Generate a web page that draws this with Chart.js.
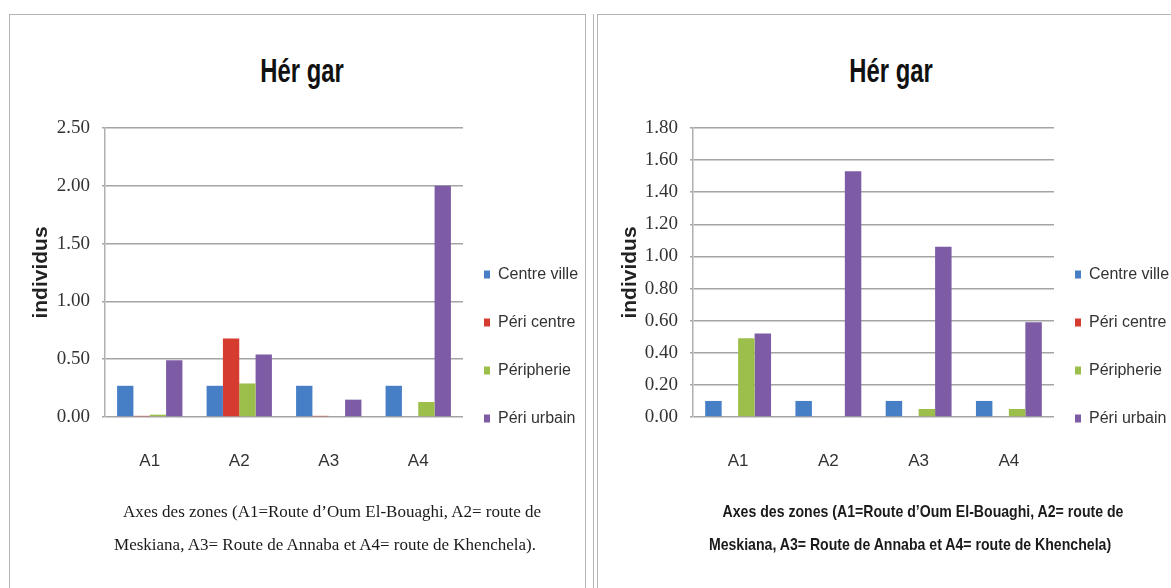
<!DOCTYPE html>
<html>
<head>
<meta charset="utf-8">
<script src="https://cdn.jsdelivr.net/npm/chart.js@4.4.0/dist/chart.umd.min.js"></script>
<style>
body { margin:0; width:1171px; height:588px; overflow:hidden; background:#fff; position:relative; }
.box { position:absolute; border:1px solid #b4b4b4; border-bottom:none; }
.titre { position:absolute; width:300px; line-height:36px; text-align:center; font-family:'Liberation Sans',Arial,sans-serif; font-weight:bold; font-size:34px; color:#111; transform:scaleX(0.7); }
.cap { position:absolute; width:500px; line-height:20px; text-align:center; white-space:nowrap; color:#1a1a1a; }
.serif { font-family:'Liberation Serif',serif; font-size:17px; }
.sans { font-family:'Liberation Sans',Arial,sans-serif; font-size:17px; font-weight:bold; transform:scaleX(0.83); }
canvas { position:absolute; }
</style>
</head>
<body>
<div class="box" style="left:9px;top:14px;width:575px;height:600px"></div>
<div class="box" style="left:593px;top:14px;width:600px;height:600px;border-top:none;border-right:none"></div>
<div class="box" style="left:597px;top:14px;width:600px;height:600px;border-right:none"></div>

<div class="titre" style="left:152px;top:52px">Hér gar</div>
<div class="titre" style="left:741px;top:52px">Hér gar</div>

<canvas id="c1" width="600" height="480" style="left:9px;top:96px"></canvas>
<canvas id="c2" width="600" height="480" style="left:598px;top:96px"></canvas>

<div class="cap serif" style="left:82px;top:502px">Axes des zones (A1=Route d’Oum El-Bouaghi, A2= route de</div>
<div class="cap serif" style="left:75px;top:535px">Meskiana, A3= Route de Annaba et A4= route de Khenchela).</div>
<div class="cap sans" style="left:673px;top:502px">Axes des zones (A1=Route d’Oum El-Bouaghi, A2= route de</div>
<div class="cap sans" style="left:660px;top:535px">Meskiana, A3= Route de Annaba et A4= route de Khenchela)</div>

<script>
var zones = ["A1", "A2", "A3", "A4"];
var series = ["Centre ville", "Péri centre", "Péripherie", "Péri urbain"];

// graphique de gauche
var g1Centre = [0.27, 0.27, 0.27, 0.27];
var g1PeriCentre = [0.01, 0.68, 0.01, 0];
var g1Peripherie = [0.02, 0.29, 0, 0.13];
var g1PeriUrbain = [0.49, 0.54, 0.15, 2.00];
var g1Ticks = [0, 0.5, 1, 1.5, 2, 2.5];

// graphique de droite
var g2Centre = [0.10, 0.10, 0.10, 0.10];
var g2PeriCentre = [0, 0, 0, 0];
var g2Peripherie = [0.49, 0, 0.05, 0.05];
var g2PeriUrbain = [0.52, 1.53, 1.06, 0.59];
var g2Ticks = [0, 0.2, 0.4, 0.6, 0.8, 1, 1.2, 1.4, 1.6, 1.8];

var couleurs = ['#467FC6', '#D63B30', '#9CBF4B', '#7E5CA5'];
var sans = "'Liberation Sans',Arial,sans-serif";
var legSize = 16, legPad = 21, legBox = 6;

// largeur naturelle de la legende, pour placer la zone de tracé
function legendWidth(){
	var c = document.createElement('canvas').getContext('2d');
	c.font = legSize + "px " + sans;
	var m = 0;
	for(var i = 0; i < series.length; i++) m = Math.max(m, c.measureText(series[i]).width);
	return legPad + legBox + legSize / 2 + m + 10;
}

function drawer(id, sets, yTicks, yWidth, plotRight){
	var canvas = document.getElementById(id);
	var ctx = canvas.getContext('2d');
	var padRight = Math.max(0, canvas.width - plotRight - legendWidth());
	var ds = [];
	for(var i = 0; i < sets.length; i++)
	{
		ds.push({
			label: series[i],
			data: sets[i],
			backgroundColor: couleurs[i],
			borderWidth: 0,
			categoryPercentage: 0.73,
			barPercentage: 1
		});
	}
	var chart = new Chart(ctx, {
		type: 'bar',
		data: { labels: zones, datasets: ds },
		options: {
			responsive: false,
			animation: false,
			layout: { padding: { left: 10, top: 32, right: padRight, bottom: 0 } },
			plugins: {
				tooltip: { enabled: false },
				legend: {
					position: 'right',
					labels: {
						boxWidth: legBox, boxHeight: 8, padding: legPad, color: '#333',
						font: { family: sans, size: legSize, lineHeight: 27 / legSize },
						generateLabels: function(ch){
							var items = Chart.defaults.plugins.legend.labels.generateLabels(ch);
							for(var k = 0; k < items.length; k++) items[k].text = [items[k].text];
							return items;
						}
					}
				}
			},
			scales: {
				x: {
					grid: { display: false, drawTicks: false },
					border: { display: false },
					ticks: { padding: 34, color: '#333', font: { family: sans, size: 17 } },
					afterFit: function(s){ s.height = 159; }
				},
				y: {
					min: yTicks[0],
					max: yTicks[yTicks.length - 1],
					ticks: {
						stepSize: yTicks[1] - yTicks[0],
						padding: 12,
						color: '#333',
						font: { family: "'Liberation Serif',serif", size: 19 },
						callback: function(v){ return v.toFixed(2); }
					},
					grid: { color: '#a4a4a4', lineWidth: 1.5, tickLength: 3 },
					border: { display: true, color: '#b0b0b0', width: 1.5 },
					title: {
						display: true,
						text: 'individus',
						color: '#222',
						font: { family: sans, weight: 'bold', size: 21 },
						padding: { top: 10, bottom: 0 }
					},
					afterFit: function(s){ s.width = yWidth; }
				}
			}
		}
	});
	return chart;
};

drawer('c1', [g1Centre, g1PeriCentre, g1Peripherie, g1PeriUrbain], g1Ticks, 86, 454);
drawer('c2', [g2Centre, g2PeriCentre, g2Peripherie, g2PeriUrbain], g2Ticks, 85, 456);
</script>
</body>
</html>
